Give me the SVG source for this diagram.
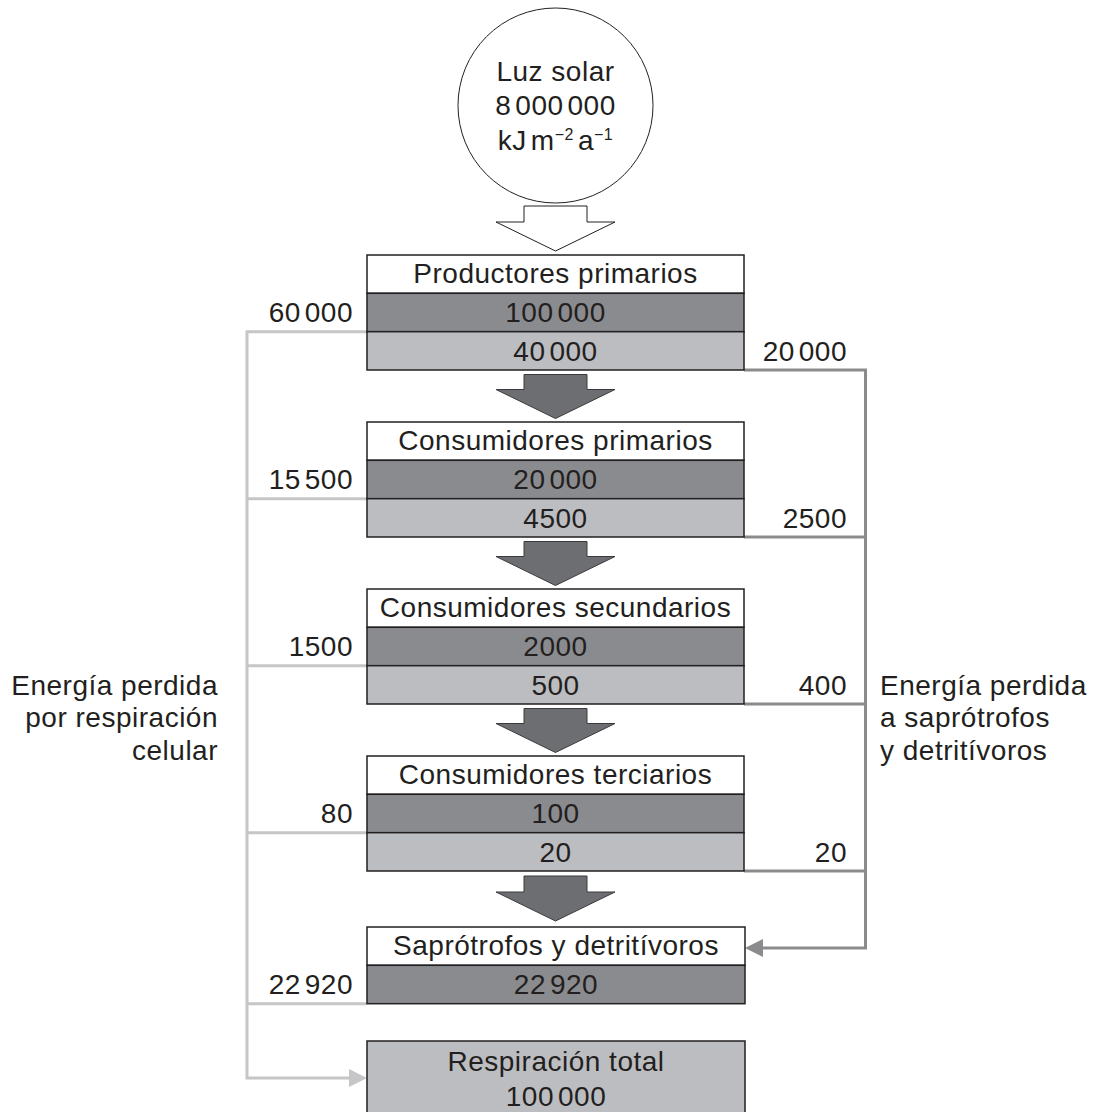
<svg xmlns="http://www.w3.org/2000/svg" width="1094" height="1112" viewBox="0 0 1094 1112">
<style>
text{font-family:"Liberation Sans",Arial,sans-serif;font-size:28px;letter-spacing:0.5px;fill:#231f20}
.c{text-anchor:middle}
.e{text-anchor:end}
.w{fill:#ffffff;stroke:#231f20;stroke-width:1.5}
.d{fill:#8a8b8e;stroke:#231f20;stroke-width:1.5}
.l{fill:#bcbdc0;stroke:#231f20;stroke-width:1.5}
.ar{fill:#6d6e71;stroke:#3a3a3c;stroke-width:1}
.lg{fill:none;stroke:#c6c6c8;stroke-width:3}
.dg{fill:none;stroke:#8b8b8d;stroke-width:3}
.sup{font-size:16px}
</style>
<defs>
<marker id="mL" markerUnits="userSpaceOnUse" markerWidth="20" markerHeight="20" refX="3" refY="10" orient="auto"><path d="M0,1 L18,10 L0,19 Z" fill="#c6c6c8"/></marker>
<marker id="mD" markerUnits="userSpaceOnUse" markerWidth="20" markerHeight="20" refX="3" refY="10" orient="auto"><path d="M0,1 L18,10 L0,19 Z" fill="#8b8b8d"/></marker>
</defs>

<g id="connectors">
<path class="lg" d="M367,331.7 H247 V1078 H352" marker-end="url(#mL)"/>
<path class="lg" d="M367,498.7 H247 M367,665.7 H247 M367,832.7 H247 M367,1003.7 H247"/>
<path class="dg" d="M744,370 H865.5 V948 H760" marker-end="url(#mD)"/>
<path class="dg" d="M744,537 H865.5 M744,704 H865.5 M744,871 H865.5"/>
<path d="M524,206 H587 V222 H615 L555.5,251 L496,222 H524 Z" fill="#ffffff" stroke="#231f20" stroke-width="1"/>
<path class="ar" d="M524,374.5 H587 V389.5 H615 L555.5,418.5 L496,389.5 H524 Z"/>
<path class="ar" d="M524,541.5 H587 V556.5 H615 L555.5,585.5 L496,556.5 H524 Z"/>
<path class="ar" d="M524,708.5 H587 V723.5 H615 L555.5,752.5 L496,723.5 H524 Z"/>
<path class="ar" d="M524,876 H587 V892 H615 L555.5,921 L496,892 H524 Z"/>
</g>

<g id="sun">
<circle cx="555.5" cy="105.5" r="97.5" fill="#ffffff" stroke="#231f20" stroke-width="1"/>
<text class="c" x="555.5" y="81">Luz solar</text>
<text class="c" x="555.5" y="115">8<tspan dx="4">000</tspan><tspan dx="4">000</tspan></text>
<text class="c" x="555.5" y="150">kJ<tspan dx="4">m</tspan><tspan class="sup" dy="-10">−2</tspan><tspan dx="4" dy="10">a</tspan><tspan class="sup" dy="-10">−1</tspan></text>
</g>

<g id="productores">
<rect class="w" x="367" y="255" width="377" height="38.3"/>
<rect class="d" x="367" y="293.3" width="377" height="38.4"/>
<rect class="l" x="367" y="331.7" width="377" height="38.3"/>
<text class="c" x="555.5" y="283">Productores primarios</text>
<text class="c" x="555.5" y="321.5">100<tspan dx="4">000</tspan></text>
<text class="c" x="555.5" y="360.5">40<tspan dx="4">000</tspan></text>
<text class="e" x="353" y="321.5">60<tspan dx="4">000</tspan></text>
<text class="e" x="847" y="360.5">20<tspan dx="4">000</tspan></text>
</g>

<g id="consumidores-primarios">
<rect class="w" x="367" y="422" width="377" height="38.3"/>
<rect class="d" x="367" y="460.3" width="377" height="38.4"/>
<rect class="l" x="367" y="498.7" width="377" height="38.3"/>
<text class="c" x="555.5" y="450">Consumidores primarios</text>
<text class="c" x="555.5" y="488.5">20<tspan dx="4">000</tspan></text>
<text class="c" x="555.5" y="527.5">4500</text>
<text class="e" x="353" y="488.5">15<tspan dx="4">500</tspan></text>
<text class="e" x="847" y="527.5">2500</text>
</g>

<g id="consumidores-secundarios">
<rect class="w" x="367" y="589" width="377" height="38.3"/>
<rect class="d" x="367" y="627.3" width="377" height="38.4"/>
<rect class="l" x="367" y="665.7" width="377" height="38.3"/>
<text class="c" x="555.5" y="617">Consumidores secundarios</text>
<text class="c" x="555.5" y="655.5">2000</text>
<text class="c" x="555.5" y="694.5">500</text>
<text class="e" x="353" y="655.5">1500</text>
<text class="e" x="847" y="694.5">400</text>
</g>

<g id="consumidores-terciarios">
<rect class="w" x="367" y="756" width="377" height="38.3"/>
<rect class="d" x="367" y="794.3" width="377" height="38.4"/>
<rect class="l" x="367" y="832.7" width="377" height="38.3"/>
<text class="c" x="555.5" y="784">Consumidores terciarios</text>
<text class="c" x="555.5" y="822.5">100</text>
<text class="c" x="555.5" y="861.5">20</text>
<text class="e" x="353" y="822.5">80</text>
<text class="e" x="847" y="861.5">20</text>
</g>

<g id="saprotrofos">
<rect class="w" x="367" y="927" width="378" height="38.3"/>
<rect class="d" x="367" y="965.3" width="378" height="38.4"/>
<text class="c" x="556" y="955">Saprótrofos y detritívoros</text>
<text class="c" x="556" y="993.5">22<tspan dx="4">920</tspan></text>
<text class="e" x="353" y="993.5">22<tspan dx="4">920</tspan></text>
</g>

<g id="respiracion-total">
<rect class="l" x="367" y="1041" width="378" height="75"/>
<text class="c" x="556" y="1071">Respiración total</text>
<text class="c" x="556" y="1106">100<tspan dx="4">000</tspan></text>
</g>

<g id="labels">
<text class="e" x="218" y="695">Energía perdida</text>
<text class="e" x="218" y="727">por respiración</text>
<text class="e" x="218" y="760">celular</text>
<text x="880" y="695">Energía perdida</text>
<text x="880" y="727">a saprótrofos</text>
<text x="880" y="760">y detritívoros</text>
</g>
</svg>
